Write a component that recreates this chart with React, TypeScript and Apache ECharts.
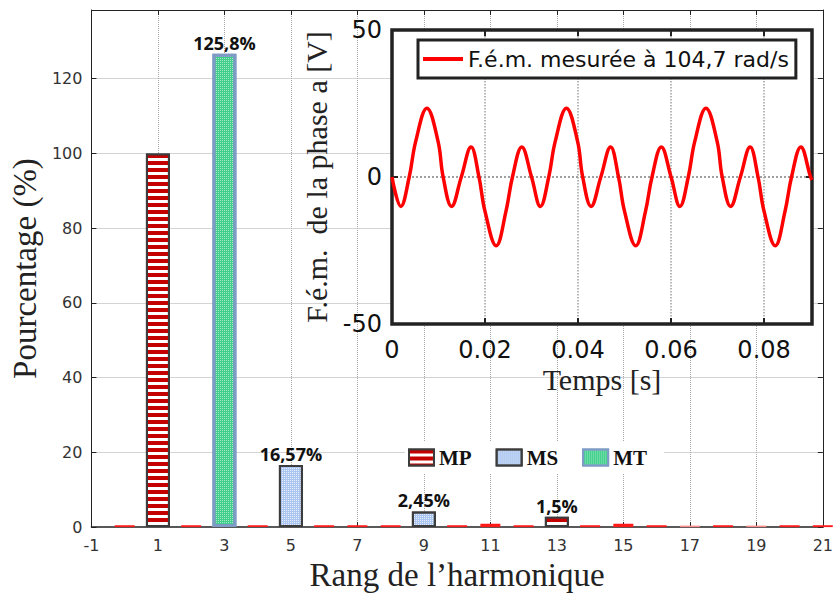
import React, { useEffect, useRef } from 'react';
import * as echarts from 'echarts';

// ---- Bar chart data (harmonic rank, percentage) ----
const mpHarmonics = [1, 13];
const mpValues = [100, 2.8];
const mpLabels = ['', '1,5%'];

const msHarmonics = [5, 9];
const msValues = [16.6, 4.2];
const msLabels = ['16,57%', '2,45%'];

const mtHarmonics = [3];
const mtValues = [126.7];
const mtLabels = ['125,8%'];

// small residual MP components drawn as red dashes on the baseline
const residualHarmonics = [0, 2, 4, 6, 7, 8, 10, 11, 12, 14, 15, 16, 17, 18, 19, 20, 21];
const residualValues = [0.5, 0.5, 0.5, 0.5, 0.5, 0.5, 0.5, 0.9, 0.5, 0.5, 0.9, 0.5, 0.4, 0.5, 0.4, 0.5, 0.5];
const paleResidualHarmonics = [17, 19];

const emfTime = [
  0, 0.0019, 0.0037, 0.0051, 0.0075, 0.0099, 0.011, 0.0128, 0.0149, 0.017, 0.0187, 0.02, 0.0224, 0.0245, 0.0259, 0.0279,
  0.03, 0.0319, 0.0337, 0.0351, 0.0375, 0.0399, 0.041, 0.0428, 0.0449, 0.047, 0.0487, 0.05, 0.0524, 0.0545, 0.0559, 0.0579,
  0.06, 0.0619, 0.0637, 0.0651, 0.0675, 0.0699, 0.071, 0.0728, 0.0749, 0.077, 0.0787, 0.08, 0.0824, 0.0845, 0.0859, 0.0879,
  0.09, 0.0903,
];
const emfValues = [
  0, -10, 0, 12.1, 23.4, 12.1, 0, -10, 0, 10.2, 0, -11.7, -23.4, -11.7, 0, 10.2,
  0, -10, 0, 12.1, 23.4, 12.1, 0, -10, 0, 10.2, 0, -11.7, -23.4, -11.7, 0, 10.2,
  0, -10, 0, 12.1, 23.4, 12.1, 0, -10, 0, 10.2, 0, -11.7, -23.4, -11.7, 0, 10.2,
  0, -1,
];

const legendBars = ['MP', 'MS', 'MT'];
const lineName = 'F.é.m. mesurée à 104,7 rad/s';

export default function App() {
  const ref = useRef<HTMLDivElement>(null);

  useEffect(() => {
    if (!ref.current) return;
    const chart = echarts.init(ref.current, null, { renderer: 'svg' });
    const serif = 'Liberation Serif';
    const sans = 'DejaVu Sans';
    const gridLine = {
      show: true,
      showMinLine: false,
      showMaxLine: false,
      lineStyle: { color: '#a9a9a9', type: 'dotted', width: 1 },
    };
    const barLabel = (labels: string[]) => ({
      show: true,
      position: 'top',
      distance: 2,
      formatter: (p: any) => labels[p.dataIndex],
      fontFamily: 'Open Sans',
      fontWeight: 'bold',
      fontSize: 18,
      color: '#111',
    });
    const boxAxis = (extra: any) => ({
      axisLine: { show: true, onZero: false, lineStyle: { color: '#222', width: 1 } },
      axisTick: { show: true, inside: true, length: 5, lineStyle: { color: '#222' } },
      axisLabel: { show: false },
      splitLine: { show: false },
      ...extra,
    });
    const insetAxis = (extra: any) => ({
      axisLine: { show: false, onZero: false },
      axisTick: { show: true, inside: true, length: 6, lineStyle: { color: '#222', width: 2 } },
      axisLabel: { show: false },
      splitLine: { show: false },
      z: 11,
      ...extra,
    });

    const option: any = {
      animation: false,
      backgroundColor: '#ffffff',
      grid: [
        { left: 86, top: 10, width: 742, height: 528, show: false },
        {
          left: 392, top: 30, width: 420, height: 294, show: true,
          backgroundColor: '#ffffff', borderColor: '#222', borderWidth: 3.5, z: 10,
        },
      ],
      legend: [
        {
          data: legendBars,
          left: 405, top: 441,
          icon: 'rect',
          itemWidth: 25, itemHeight: 16, itemGap: 24,
          padding: [6, 17, 6, 3],
          backgroundColor: '#ffffff',
          textStyle: { fontFamily: serif, fontWeight: 'bold', fontSize: 21, color: '#111' },
          z: 8,
        },
        {
          data: [lineName],
          left: 418, top: 40,
          icon: 'rect',
          itemWidth: 40, itemHeight: 4, itemGap: 0,
          padding: [8, 7, 8, 5],
          backgroundColor: '#ffffff',
          borderColor: '#222', borderWidth: 3,
          textStyle: { fontFamily: sans, fontSize: 22, color: '#111' },
          z: 14,
        },
      ],
      xAxis: [
        boxAxis({
          gridIndex: 0, type: 'value', min: -1, max: 21, interval: 2, position: 'bottom',
          name: 'Rang de l\u2019harmonique', nameLocation: 'middle', nameGap: 22,
          nameTextStyle: { fontFamily: serif, fontSize: 33, color: '#222' },
          axisLine: { show: true, onZero: false, lineStyle: { color: '#222', width: 1.5 } },
          axisLabel: { show: true, fontFamily: sans, fontSize: 16, color: '#333', margin: 10 },
          splitLine: gridLine,
        }),
        boxAxis({ gridIndex: 0, type: 'value', min: -1, max: 21, interval: 2, position: 'top' }),
        insetAxis({
          gridIndex: 1, type: 'value', min: 0, max: 0.0903, interval: 0.02, position: 'bottom',
          name: 'Temps [s]', nameLocation: 'middle', nameGap: 40,
          nameTextStyle: { fontFamily: serif, fontSize: 30, color: '#222' },
          axisLabel: { show: true, fontFamily: sans, fontSize: 24, color: '#111', margin: 14, showMaxLabel: false },
          splitLine: {
            show: true, showMinLine: false, showMaxLine: false,
            lineStyle: { color: '#a0a0a0', type: 'dotted', width: 1.5 },
          },
        }),
        insetAxis({ gridIndex: 1, type: 'value', min: 0, max: 0.0903, interval: 0.02, position: 'top' }),
      ],
      yAxis: [
        boxAxis({
          gridIndex: 0, type: 'value', min: 0, max: 138.4, interval: 20, position: 'left',
          name: 'Pourcentage (%)', nameLocation: 'middle', nameGap: 38,
          nameTextStyle: { fontFamily: serif, fontSize: 33, color: '#222' },
          axisLabel: { show: true, fontFamily: sans, fontSize: 16, color: '#333', margin: 9, showMaxLabel: false },
          splitLine: gridLine,
        }),
        boxAxis({ gridIndex: 0, type: 'value', min: 0, max: 138.4, interval: 20, position: 'right' }),
        insetAxis({
          gridIndex: 1, type: 'value', min: -50, max: 50, interval: 50, position: 'left',
          name: 'F.é.m.  de la phase a [V]', nameLocation: 'middle', nameGap: 45,
          nameTextStyle: { fontFamily: serif, fontSize: 30, color: '#222' },
          axisLabel: { show: true, fontFamily: sans, fontSize: 24, color: '#111', margin: 10 },
        }),
        insetAxis({ gridIndex: 1, type: 'value', min: -50, max: 50, interval: 50, position: 'right' }),
      ],
      series: [
        {
          name: 'residual', type: 'bar', xAxisIndex: 1, yAxisIndex: 0, barWidth: 20,
          data: residualHarmonics.map((h, i) => ({
            value: [h, residualValues[i]],
            itemStyle: { color: paleResidualHarmonics.includes(h) ? '#ff8c8c' : '#ff1a1a' },
          })),
          itemStyle: { color: '#ff1a1a' },
          z: 2,
        },
        {
          name: 'MP', type: 'bar', xAxisIndex: 0, yAxisIndex: 0, barWidth: 24, barGap: '-100%',
          data: mpHarmonics.map((h, i) => [h, mpValues[i]]),
          itemStyle: {
            color: '#ffffff', borderColor: '#3c3c3c', borderWidth: 2,
            decal: {
              symbol: 'rect', symbolSize: 1, symbolKeepAspect: false, color: '#c40000',
              dashArrayX: [1, 0], dashArrayY: [4, 3], rotation: 0,
            },
          },
          label: barLabel(mpLabels),
          z: 3,
        },
        {
          name: 'MS', type: 'bar', xAxisIndex: 0, yAxisIndex: 0, barWidth: 24, barGap: '-100%',
          data: msHarmonics.map((h, i) => [h, msValues[i]]),
          itemStyle: {
            color: '#aac5f0', borderColor: '#3c3c3c', borderWidth: 2,
            decal: {
              symbol: 'rect', symbolSize: 1, symbolKeepAspect: false, color: 'rgba(255,255,255,0.7)',
              dashArrayX: [1, 1], dashArrayY: [1, 1], rotation: 0,
            },
          },
          label: barLabel(msLabels),
          z: 3,
        },
        {
          name: 'MT', type: 'bar', xAxisIndex: 0, yAxisIndex: 0, barWidth: 24, barGap: '-100%',
          data: mtHarmonics.map((h, i) => [h, mtValues[i]]),
          itemStyle: {
            color: '#3fcf8a', borderColor: '#7d9bc4', borderWidth: 3,
            decal: {
              symbol: 'rect', symbolSize: 1, symbolKeepAspect: false, color: 'rgba(255,255,255,0.55)',
              dashArrayX: [1, 1], dashArrayY: [1, 1], rotation: 0,
            },
          },
          label: barLabel(mtLabels),
          z: 3,
        },
        {
          name: lineName, type: 'line', xAxisIndex: 2, yAxisIndex: 2,
          data: emfTime.map((t, i) => [t, emfValues[i]]),
          smooth: 0.4, symbol: 'none', showSymbol: false,
          lineStyle: { color: '#ff0000', width: 3.5 },
          itemStyle: { color: '#ff0000' },
          z: 12,
          markLine: {
            silent: true, symbol: 'none', z: 11,
            label: { show: false },
            lineStyle: { color: '#a0a0a0', type: 'dotted', width: 2 },
            data: [{ yAxis: 0 }],
          },
        },
      ],
    };
    chart.setOption(option);
    return () => chart.dispose();
  }, []);

  return (
    <div
      ref={ref}
      style={{ position: 'absolute', left: 0, top: 0, width: 836, height: 596 }}
    />
  );
}
